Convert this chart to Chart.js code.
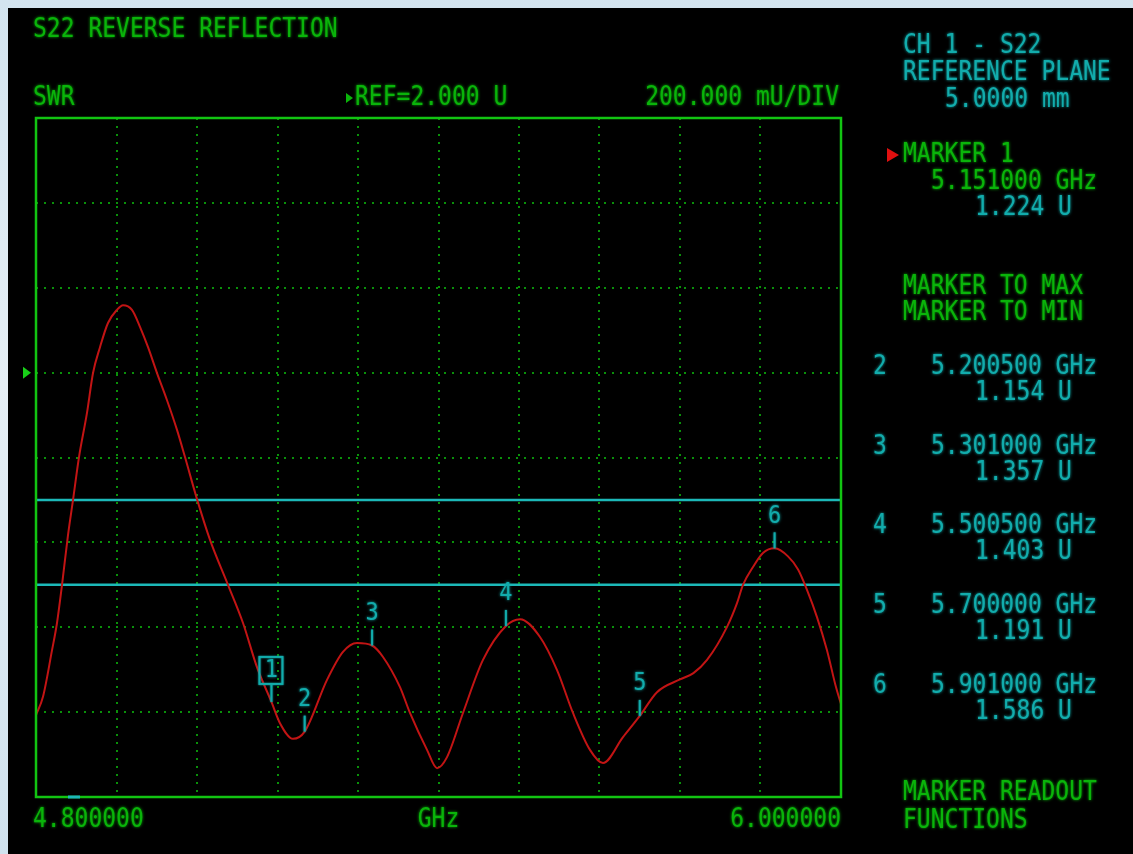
<!DOCTYPE html>
<html>
<head>
<meta charset="utf-8">
<title>S22 Reverse Reflection</title>
<script src="https://cdn.jsdelivr.net/npm/chart.js@4.4.1/dist/chart.umd.min.js"></script>
<style>
  html, body { margin: 0; padding: 0; }
  body {
    width: 1133px; height: 854px; overflow: hidden;
    background: linear-gradient(180deg, #d3e4ef 0%, #e6eff5 45%, #d0e2ee 100%);
  }
  #wrap { position: absolute; left: 0; top: 0; width: 1133px; height: 854px; }
  canvas { display: block; }
</style>
</head>
<body>
<div id="wrap"><canvas id="vna" width="1133" height="854"></canvas></div>
<script>
// Sweep: 4.8 – 6.0 GHz, SWR trace
const FREQ_GHZ = [
  4.800, 4.8104, 4.8239, 4.8313, 4.8388, 4.8477, 4.8552, 4.8641, 4.8760, 4.8850,
  4.8954, 4.9073, 4.9207, 4.9297, 4.9431, 4.9550, 4.9670, 4.9804, 4.9953, 5.0102,
  5.0221, 5.0400, 5.0594, 5.0862, 5.1086, 5.1294, 5.1510, 5.1637, 5.1831, 5.2005,
  5.2338, 5.2576, 5.2785, 5.3010, 5.3173, 5.3426, 5.3575, 5.3829, 5.3978, 5.4127,
  5.4365, 5.4663, 5.5005, 5.5215, 5.5513, 5.5767, 5.6005, 5.6258, 5.6452, 5.6750,
  5.7000, 5.7257, 5.7600, 5.7800, 5.8003, 5.8301, 5.8450, 5.8539, 5.8688, 5.8837,
  5.9010, 5.9210, 5.9360, 5.9493, 5.9642, 5.9791, 5.9925, 6.000
];
const SWR = [
  1.193, 1.236, 1.346, 1.410, 1.500, 1.617, 1.700, 1.801, 1.905, 1.999,
  2.060, 2.117, 2.148, 2.159, 2.148, 2.108, 2.060, 1.999, 1.935, 1.865,
  1.801, 1.702, 1.606, 1.500, 1.410, 1.306, 1.224, 1.174, 1.137, 1.154,
  1.276, 1.342, 1.363, 1.357, 1.330, 1.259, 1.198, 1.111, 1.068, 1.094,
  1.198, 1.323, 1.403, 1.419, 1.377, 1.299, 1.198, 1.111, 1.080, 1.141,
  1.191, 1.247, 1.277, 1.292, 1.323, 1.401, 1.457, 1.500, 1.542, 1.575,
  1.586, 1.567, 1.536, 1.488, 1.424, 1.346, 1.259, 1.219
];

// Limit lines (SWR)
const LIMIT_LINES = [1.70, 1.50];

// Markers
const MARKER_IDS  = ['1', '2', '3', '4', '5', '6'];
const MARKER_FREQ = [5.151, 5.2005, 5.301, 5.5005, 5.700, 5.901];
const MARKER_SWR  = [1.224, 1.154, 1.357, 1.403, 1.191, 1.586];

// Graticule: 10 x 8 divisions, 200 mU/div, REF = 2.000 U
const X_TICKS = [4.80, 4.92, 5.04, 5.16, 5.28, 5.40, 5.52, 5.64, 5.76, 5.88, 6.00];
const Y_TICKS = [1.0, 1.2, 1.4, 1.6, 1.8, 2.0, 2.2, 2.4, 2.6];
const REF_LEVEL = 2.0;

const GREEN = '#0ab40a';
const GREEN_FRAME = '#12c412';
const GRID = '#0a900a';
const CYAN = '#12acac';
const CYAN_LINE = '#1cb8b8';
const TRACE = '#c21414';
const FONT = '"DejaVu Sans Mono", "Liberation Mono", monospace';

const traceData = FREQ_GHZ.map((f, i) => ({ x: f, y: SWR[i] }));
const limitSets = LIMIT_LINES.map(v => ({
  data: [{ x: X_TICKS[0], y: v }, { x: X_TICKS[X_TICKS.length - 1], y: v }],
  showLine: true, borderColor: CYAN_LINE, borderWidth: 2.5, pointRadius: 0, order: 2
}));
const markerData = MARKER_FREQ.map((f, i) => ({ x: f, y: MARKER_SWR[i] }));

// screen characters are tall and narrow: stretch glyphs vertically
function txt(ctx, s, x, y, color, size, align) {
  ctx.save();
  ctx.font = (size || 23) + 'px ' + FONT;
  ctx.fillStyle = color;
  ctx.textAlign = align || 'left';
  ctx.textBaseline = 'middle';
  ctx.shadowColor = color;
  ctx.shadowBlur = 3;
  ctx.translate(x, y);
  ctx.scale(1, 1.13);
  ctx.fillText(s, 0, 0);
  ctx.restore();
}

function tri(ctx, x0, y0, w, h, color) {
  ctx.save();
  ctx.fillStyle = color;
  ctx.beginPath();
  ctx.moveTo(x0, y0 - h / 2);
  ctx.lineTo(x0 + w, y0);
  ctx.lineTo(x0, y0 + h / 2);
  ctx.closePath();
  ctx.fill();
  ctx.restore();
}

const screenPlugin = {
  id: 'screen',
  beforeDraw(chart) {
    const ctx = chart.ctx;
    ctx.save();
    ctx.fillStyle = '#000';
    ctx.fillRect(8, 8, chart.width - 8, chart.height - 8);
    ctx.restore();
  },
  afterDatasetsDraw(chart) {
    const ctx = chart.ctx;
    const a = chart.chartArea;
    const ys = chart.scales.y;

    // graticule frame
    ctx.save();
    ctx.strokeStyle = GREEN_FRAME;
    ctx.lineWidth = 2.5;
    ctx.strokeRect(a.left, a.top, a.right - a.left, a.bottom - a.top);
    ctx.restore();

    // reference level pointer
    tri(ctx, a.left - 13, ys.getPixelForValue(REF_LEVEL), 8, 12, '#18d018');

    // active marker position on the frequency axis
    ctx.save();
    ctx.strokeStyle = CYAN_LINE;
    ctx.lineWidth = 3;
    ctx.beginPath();
    ctx.moveTo(a.left + 32, a.bottom);
    ctx.lineTo(a.left + 44, a.bottom);
    ctx.stroke();
    ctx.restore();

    // marker flags on the trace
    const meta = chart.getDatasetMeta(chart.data.datasets.length - 1);
    meta.data.forEach((pt, i) => {
      const x = pt.x, y = pt.y;
      ctx.save();
      ctx.strokeStyle = CYAN;
      ctx.lineWidth = 2;
      ctx.shadowColor = CYAN;
      ctx.shadowBlur = 2;
      if (i === 0) {
        ctx.beginPath();
        ctx.moveTo(x, y);
        ctx.lineTo(x, y - 18);
        ctx.stroke();
        ctx.strokeRect(x - 12, y - 45, 23, 27);
        ctx.restore();
        txt(ctx, MARKER_IDS[i], x, y - 31, CYAN, 22, 'center');
      } else {
        ctx.beginPath();
        ctx.moveTo(x, y);
        ctx.lineTo(x, y - 16);
        ctx.stroke();
        ctx.restore();
        txt(ctx, MARKER_IDS[i], x, y - 32, CYAN, 22, 'center');
      }
    });
  },
  afterDraw(chart) {
    const ctx = chart.ctx;
    const a = chart.chartArea;

    // header lines
    txt(ctx, 'S22 REVERSE REFLECTION', 33, 30, GREEN);
    txt(ctx, 'SWR', 33, 98, GREEN);
    tri(ctx, 346, 98, 7, 10, GREEN);
    txt(ctx, 'REF=' + REF_LEVEL.toFixed(3) + ' U', 355, 98, GREEN);
    txt(ctx, '200.000 mU/DIV', a.right - 2, 98, GREEN, 23, 'right');

    // frequency annotation
    txt(ctx, X_TICKS[0].toFixed(6), 33, 820, GREEN);
    txt(ctx, 'GHz', (a.left + a.right) / 2, 820, GREEN, 23, 'center');
    txt(ctx, X_TICKS[X_TICKS.length - 1].toFixed(6), a.right, 820, GREEN, 23, 'right');

    // channel / reference plane
    txt(ctx, 'CH 1 - S22', 903, 46, CYAN);
    txt(ctx, 'REFERENCE PLANE', 903, 73, CYAN);
    txt(ctx, '5.0000 mm', 945, 100, CYAN);

    // active marker readout
    tri(ctx, 887, 155, 12, 14, '#e01010');
    txt(ctx, 'MARKER ' + MARKER_IDS[0], 903, 155, GREEN);
    txt(ctx, MARKER_FREQ[0].toFixed(6) + ' GHz', 931, 182, GREEN);
    txt(ctx, MARKER_SWR[0].toFixed(3) + ' U', 975, 208, CYAN);

    txt(ctx, 'MARKER TO MAX', 903, 287, GREEN);
    txt(ctx, 'MARKER TO MIN', 903, 313, GREEN);

    // other marker readouts
    const rowY = [367, 447, 526, 606, 686];
    for (let i = 1; i < MARKER_IDS.length; i++) {
      const y = rowY[i - 1];
      txt(ctx, MARKER_IDS[i], 873, y, CYAN);
      txt(ctx, MARKER_FREQ[i].toFixed(6) + ' GHz', 931, y, CYAN);
      txt(ctx, MARKER_SWR[i].toFixed(3) + ' U', 975, y + 26, CYAN);
    }

    txt(ctx, 'MARKER READOUT', 903, 793, GREEN);
    txt(ctx, 'FUNCTIONS', 903, 821, GREEN);
  }
};

const gridOpts = {
  color: GRID,
  lineWidth: 2,
  drawTicks: false
};

new Chart(document.getElementById('vna'), {
  type: 'scatter',
  data: {
    datasets: [
      {
        data: traceData, showLine: true, borderColor: TRACE, borderWidth: 2,
        pointRadius: 0, cubicInterpolationMode: 'monotone', order: 1
      },
      ...limitSets,
      { data: markerData, pointRadius: 0, showLine: false, order: 0 }
    ]
  },
  options: {
    responsive: false,
    devicePixelRatio: 1,
    animation: false,
    events: [],
    layout: { padding: { left: 36, top: 118, right: 292, bottom: 57 } },
    plugins: { legend: { display: false }, tooltip: { enabled: false } },
    scales: {
      x: {
        type: 'linear', min: X_TICKS[0], max: X_TICKS[X_TICKS.length - 1],
        afterBuildTicks: s => { s.ticks = X_TICKS.map(v => ({ value: v })); },
        ticks: { display: false },
        grid: gridOpts,
        border: { display: false, dash: [2, 6] }
      },
      y: {
        type: 'linear', min: Y_TICKS[0], max: Y_TICKS[Y_TICKS.length - 1],
        afterBuildTicks: s => { s.ticks = Y_TICKS.map(v => ({ value: v })); },
        ticks: { display: false },
        grid: gridOpts,
        border: { display: false, dash: [2, 6] }
      }
    }
  },
  plugins: [screenPlugin]
});
</script>
</body>
</html>
